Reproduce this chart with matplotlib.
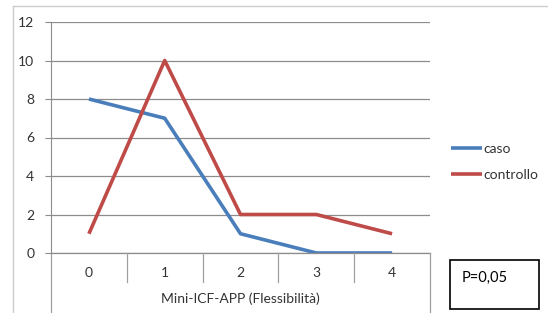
import numpy as np
import matplotlib.pyplot as plt
from matplotlib.lines import Line2D
from matplotlib.patches import Rectangle

plt.rcParams['font.family'] = ['Lato', 'DejaVu Sans']

# Dati
categorie = ['0', '1', '2', '3', '4']
caso = [8, 7, 1, 0, 0]
controllo = [1, 10, 2, 2, 1]

fig = plt.figure(figsize=(5.48, 3.13), dpi=100)
fig.patch.set_facecolor('white')

# cornice esterna (solo sinistra e sopra)
fig.add_artist(Line2D([13/548, 13/548], [0, 1 - 6/313], color='#cccccc', lw=1.0))
fig.add_artist(Line2D([13/548, 1], [1 - 6/313, 1 - 6/313], color='#cccccc', lw=1.0))

ax = fig.add_axes([51/548, 1 - 253/313, 379/548, 231/313])
x = np.arange(len(categorie))
ax.plot(x, caso, color='#4a7ebb', lw=2.6, label='caso', solid_capstyle='butt')
ax.plot(x, controllo, color='#be4b48', lw=2.6, label='controllo', solid_capstyle='butt')

ax.set_xlim(-0.5, 4.5)
ax.set_ylim(0, 12)
ax.set_yticks(range(0, 13, 2))
ax.yaxis.grid(True, color='#8c8c8c', lw=0.9)
ax.set_axisbelow(True)
for s in ['top', 'right', 'bottom']:
    ax.spines[s].set_visible(False)
ax.spines['left'].set_color('#8c8c8c')
ax.tick_params(axis='y', length=4, color='#8c8c8c', labelsize=10, pad=8, labelcolor='#333333')
ax.set_xticks(x)
ax.set_xticklabels(categorie)
ax.tick_params(axis='x', length=0, labelsize=10, pad=10, labelcolor='#333333')

# linee della tabella sotto l'asse
tr = ax.get_xaxis_transform()
ax.plot([-0.5, 4.5], [0, 0], transform=tr, color='#8c8c8c', lw=0.9, clip_on=False)
for xv in [0.5, 1.5, 2.5, 3.5]:
    ax.plot([xv, xv], [0, -0.125], transform=tr, color='#a0a0a0', lw=0.9, clip_on=False)
for xv in [-0.5, 4.5]:
    ax.plot([xv, xv], [0, -0.27], transform=tr, color='#a0a0a0', lw=0.9, clip_on=False)

fig.text(240/548, 1 - 299/313, 'Mini-ICF-APP (Flessibilità)', ha='center', va='center',
         fontsize=10, color='#333333')

# legenda
fig.legend(handles=ax.get_lines()[:2], labels=['caso', 'controllo'],
           loc='center left', bbox_to_anchor=(438/548, 1 - 162/313), frameon=False,
           fontsize=10, handlelength=2.3, handletextpad=0.1, labelspacing=1.0,
           labelcolor='#333333')

# riquadro P
fig.add_artist(Rectangle((450/548, 1 - 309/313), 89/548, 49/313, transform=fig.transFigure,
                         fill=False, edgecolor='black', lw=1.2))
fig.text(462/548, 1 - 278/313, 'P=0,05', ha='left', va='center', fontsize=10.5, color='black')

fig.savefig('out.png', dpi=100)
